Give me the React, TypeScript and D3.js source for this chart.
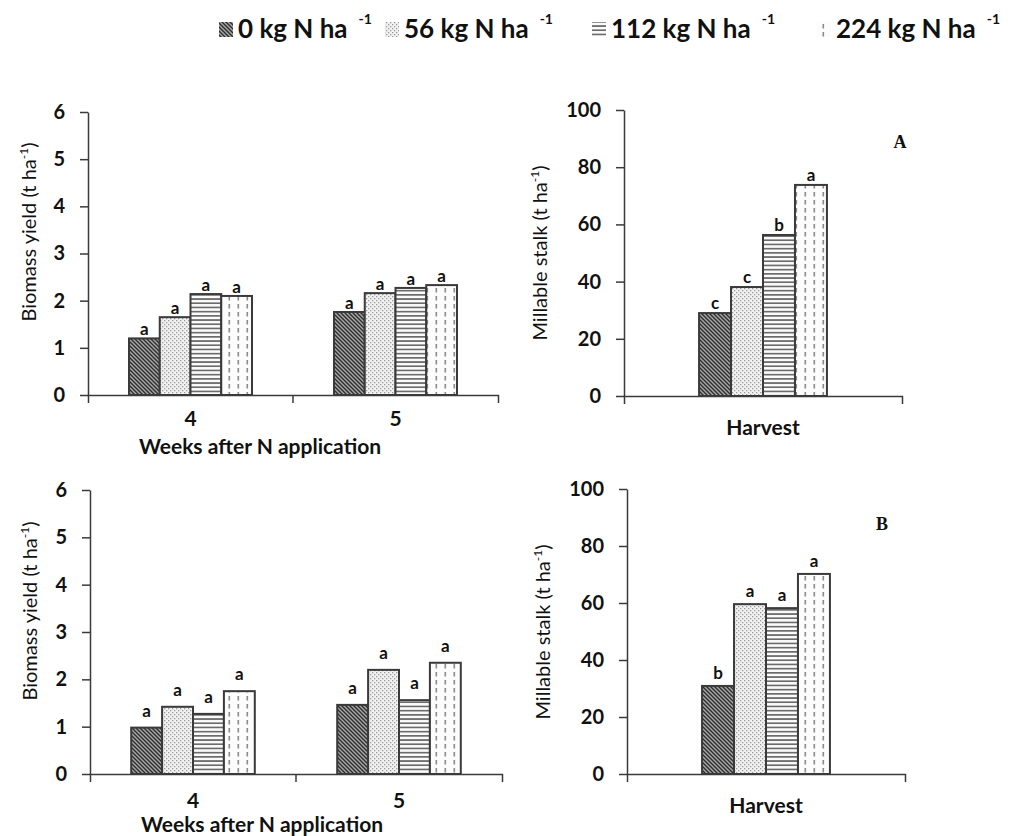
import React, { useEffect, useRef } from 'react';
import * as d3 from 'd3';

// N rates (kg N ha-1)
const treatments = ['0', '56', '112', '224'];
const weeks = ['4', '5'];
const harvest = ['Harvest'];

// biomass yield (t ha-1), site A and B
const biomassA4 = [1.2, 1.65, 2.14, 2.1];
const biomassA5 = [1.76, 2.16, 2.27, 2.33];
const biomassB4 = [0.98, 1.42, 1.27, 1.75];
const biomassB5 = [1.46, 2.2, 1.56, 2.35];

// millable stalk at harvest (t ha-1)
const stalkA = [29, 38.1, 56.3, 73.8];
const stalkB = [30.9, 59.6, 58.2, 70.2];

// mean separation letters
const lettersBiomassA4 = ['a', 'a', 'a', 'a'];
const lettersBiomassA5 = ['a', 'a', 'a', 'a'];
const lettersBiomassB4 = ['a', 'a', 'a', 'a'];
const lettersBiomassB5 = ['a', 'a', 'a', 'a'];
const lettersStalkA = ['c', 'c', 'b', 'a'];
const lettersStalkB = ['b', 'a', 'a', 'a'];

const biomassTicks = [0, 1, 2, 3, 4, 5, 6];
const stalkTicks = [0, 20, 40, 60, 80, 100];

const FONT = 'Lato, "Open Sans", sans-serif';
const INK = '#111';
const LINE = '#3a3a3a';

const panels = [
  {
    cats: weeks, series: [biomassA4, biomassA5], letters: [lettersBiomassA4, lettersBiomassA5],
    ticks: biomassTicks, title: 'Biomass yield', box: { l: 88, r: 498, t: 112, b: 395 },
    group: 0.6, gap: 3, titleAt: [29, 232], catPad: 16, xTitle: 'Weeks after N application', xTitleAt: [260, 447],
  },
  {
    cats: harvest, series: [stalkA], letters: [lettersStalkA],
    ticks: stalkTicks, title: 'Millable stalk', box: { l: 624, r: 902, t: 110, b: 396 },
    group: 0.46, gap: 4, titleAt: [540, 253], catPad: 24, tag: 'A', tagAt: [900, 142],
  },
  {
    cats: weeks, series: [biomassB4, biomassB5], letters: [lettersBiomassB4, lettersBiomassB5],
    ticks: biomassTicks, title: 'Biomass yield', box: { l: 90, r: 502, t: 490, b: 774 },
    group: 0.6, gap: 11, titleAt: [30, 611], catPad: 19, xTitle: 'Weeks after N application', xTitleAt: [262, 825],
  },
  {
    cats: harvest, series: [stalkB], letters: [lettersStalkB],
    ticks: stalkTicks, title: 'Millable stalk', box: { l: 627, r: 905, t: 489, b: 774 },
    group: 0.46, gap: 7, titleAt: [543, 632], catPad: 24, tag: 'B', tagAt: [882, 524],
  },
];

const legendX = [238, 404, 611, 836];

function addPatterns(defs) {
  // 0 kg: dark diagonal hatching
  const p0 = defs.append('pattern').attr('id', 'pat0').attr('patternUnits', 'userSpaceOnUse')
    .attr('width', 4).attr('height', 4);
  p0.append('rect').attr('width', 4).attr('height', 4).attr('fill', '#a8a8a8');
  p0.append('path').attr('d', 'M-1,-1 L5,5 M-1,3 L1,5 M3,-1 L5,1')
    .attr('stroke', '#2e2e2e').attr('stroke-width', 1.4);

  // 56 kg: fine dots
  const p1 = defs.append('pattern').attr('id', 'pat1').attr('patternUnits', 'userSpaceOnUse')
    .attr('width', 4).attr('height', 4);
  p1.append('rect').attr('width', 4).attr('height', 4).attr('fill', '#f2f2f2');
  p1.append('rect').attr('x', 0).attr('y', 0).attr('width', 1.3).attr('height', 1.3).attr('fill', '#9a9a9a');
  p1.append('rect').attr('x', 2).attr('y', 2).attr('width', 1.3).attr('height', 1.3).attr('fill', '#9a9a9a');

  // 112 kg: horizontal lines
  const p2 = defs.append('pattern').attr('id', 'pat2').attr('patternUnits', 'userSpaceOnUse')
    .attr('width', 4).attr('height', 4.2);
  p2.append('rect').attr('width', 4).attr('height', 4.2).attr('fill', '#fbfbfb');
  p2.append('rect').attr('y', 0).attr('width', 4).attr('height', 1.7).attr('fill', '#6c6c6c');

  // 224 kg: vertical dashes
  const p3 = defs.append('pattern').attr('id', 'pat3').attr('patternUnits', 'userSpaceOnUse')
    .attr('width', 9).attr('height', 8);
  p3.append('rect').attr('width', 9).attr('height', 8).attr('fill', '#fcfcfc');
  p3.append('rect').attr('x', 3.5).attr('y', 0).attr('width', 1.6).attr('height', 4.5).attr('fill', '#8a8a8a');
}

function App() {
  const ref = useRef(null);

  useEffect(() => {
    const svg = d3.select(ref.current);
    svg.selectAll('*').remove();
    addPatterns(svg.append('defs'));

    // legend
    const legend = svg.append('g');
    treatments.forEach((t, i) => {
      legend.append('rect').attr('x', legendX[i] - 19).attr('y', 22).attr('width', 14).attr('height', 15)
        .attr('fill', `url(#pat${i})`);
      const txt = legend.append('text').attr('x', legendX[i]).attr('y', 38)
        .attr('font-family', FONT).attr('font-weight', 'bold').attr('font-size', 26).attr('fill', INK)
        .text(`${t} kg N ha`);
      txt.append('tspan').attr('dx', 11).attr('dy', -14).attr('font-size', 14).text('-1');
    });

    panels.forEach((p) => {
      const g = svg.append('g');
      const y = d3.scaleLinear().domain([0, p.ticks[p.ticks.length - 1]]).range([p.box.b, p.box.t]);
      const x = d3.scaleBand().domain(p.cats).range([p.box.l, p.box.r]);
      const inner = d3.scaleBand().domain(treatments).range([0, x.bandwidth() * p.group]);
      const shift = x.bandwidth() * (1 - p.group) / 2;

      p.cats.forEach((c, ci) => {
        const vals = p.series[ci];
        g.selectAll(null).data(vals).enter().append('rect')
          .attr('x', (d, i) => x(c) + shift + inner(treatments[i]))
          .attr('y', (d) => y(d))
          .attr('width', inner.bandwidth())
          .attr('height', (d) => y(0) - y(d))
          .attr('fill', (d, i) => `url(#pat${i})`)
          .attr('stroke', LINE)
          .attr('stroke-width', 2);

        g.selectAll(null).data(vals).enter().append('text')
          .attr('x', (d, i) => x(c) + shift + inner(treatments[i]) + inner.bandwidth() / 2)
          .attr('y', (d) => y(d) - p.gap)
          .attr('text-anchor', 'middle')
          .attr('font-family', FONT).attr('font-weight', 'bold').attr('font-size', 17).attr('fill', INK)
          .text((d, i) => p.letters[ci][i]);
      });

      // y axis
      const ya = g.append('g').attr('transform', `translate(${p.box.l},0)`)
        .call(d3.axisLeft(y).tickValues(p.ticks).tickFormat(d3.format('d'))
          .tickSize(8).tickSizeOuter(0).tickPadding(15));
      ya.attr('font-family', FONT).attr('font-size', 20).attr('font-weight', 'bold');
      ya.select('.domain').attr('stroke', LINE).attr('stroke-width', 1.5);
      ya.selectAll('.tick line').attr('stroke', LINE).attr('stroke-width', 1.5);
      ya.selectAll('.tick text').attr('fill', INK);

      // x axis: ticks at category boundaries, labels centred
      const xa = g.append('g').attr('transform', `translate(0,${p.box.b})`)
        .call(d3.axisBottom(x).tickSize(0).tickSizeOuter(8).tickPadding(p.catPad));
      xa.attr('font-family', FONT).attr('font-size', 21).attr('font-weight', 'bold');
      xa.select('.domain').attr('stroke', LINE).attr('stroke-width', 1.5);
      xa.selectAll('.tick text').attr('fill', INK);
      p.cats.slice(1).forEach((c) => {
        xa.append('line').attr('x1', x(c)).attr('x2', x(c)).attr('y1', 0).attr('y2', 8)
          .attr('stroke', LINE).attr('stroke-width', 1.5);
      });

      if (p.xTitle) {
        g.append('text').attr('x', p.xTitleAt[0]).attr('y', p.xTitleAt[1]).attr('dy', '0.35em')
          .attr('text-anchor', 'middle')
          .attr('font-family', FONT).attr('font-weight', 'bold').attr('font-size', 21).attr('fill', INK)
          .text(p.xTitle);
      }

      // y title
      const yt = g.append('text')
        .attr('transform', `translate(${p.titleAt[0]},${p.titleAt[1]}) rotate(-90)`)
        .attr('dy', '0.35em').attr('text-anchor', 'middle')
        .attr('font-family', FONT).attr('font-size', 20).attr('fill', INK);
      yt.append('tspan').text(`${p.title} (t ha`);
      yt.append('tspan').attr('dy', -8).attr('font-size', 12).text('-1');
      yt.append('tspan').attr('dy', 8).text(')');

      if (p.tag) {
        g.append('text').attr('x', p.tagAt[0]).attr('y', p.tagAt[1]).attr('dy', '0.35em')
          .attr('text-anchor', 'middle')
          .attr('font-family', '"Liberation Serif", "DejaVu Serif", serif').attr('font-weight', 'bold')
          .attr('font-size', 18).attr('fill', INK)
          .text(p.tag);
      }
    });
  }, []);

  return (
    <svg
      ref={ref}
      width={1018}
      height={836}
      style={{ position: 'absolute', left: 0, top: 0, background: '#fff' }}
    />
  );
}

export default App;
